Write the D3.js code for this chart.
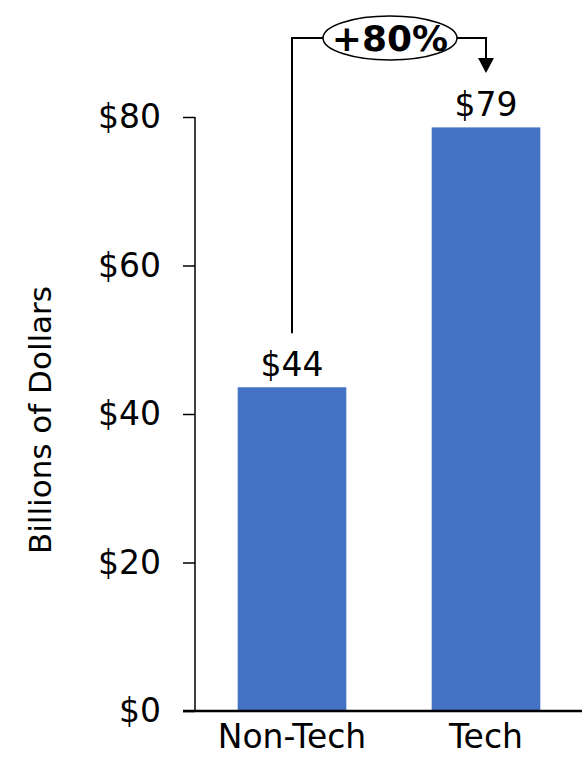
<!DOCTYPE html>
<html>
<head>
<meta charset="utf-8">
<script src="https://cdn.jsdelivr.net/npm/d3@7"></script>
<style>
  body { margin: 0; background: #fff; }
  svg { display: block; font-family: "DejaVu Sans", sans-serif; }
</style>
</head>
<body>
<svg></svg>
<script>
// Chart data
const categories = ["Non-Tech", "Tech"];
const values = [43.6, 78.6];
const valueLabels = ["$44", "$79"];
const tickValues = [0, 20, 40, 60, 80];
const changeLabel = "+80%";

// Dimensions
const width = 584;
const height = 758;
const axisX = 195;
const baseY = 711;

const svg = d3.select("svg")
    .attr("width", width)
    .attr("height", height);

const xScale = d3.scaleBand()
    .domain(categories)
    .range([axisX, 583])
    .paddingInner(0.44)
    .paddingOuter(0.22);

const yScale = d3.scaleLinear()
    .domain([0, 80])
    .range([baseY, 117]);

// Bars
svg.selectAll("rect.bar")
    .data(categories)
    .enter()
    .append("rect")
    .attr("class", "bar")
    .attr("x", d => xScale(d))
    .attr("y", (d, i) => yScale(values[i]))
    .attr("width", xScale.bandwidth())
    .attr("height", (d, i) => yScale(0) - yScale(values[i]))
    .attr("fill", "#4472C4");

// Y axis
const yAxis = d3.axisLeft(yScale)
    .tickValues(tickValues)
    .tickSize(12)
    .tickPadding(22)
    .tickFormat(d => "$" + d);
const gy = svg.append("g")
    .attr("transform", "translate(" + axisX + ",0)")
    .call(yAxis);
gy.select(".domain").remove();
gy.append("line")
    .attr("x1", 0).attr("x2", 0)
    .attr("y1", yScale(80)).attr("y2", baseY)
    .attr("stroke", "#000").attr("stroke-width", 1.5);
gy.selectAll(".tick line").attr("stroke", "#000").attr("stroke-width", 1.5);
gy.selectAll(".tick text")
    .attr("fill", "#000")
    .style("font-size", "33px")
    .style("font-family", "DejaVu Sans, sans-serif");

// X axis
const xAxis = d3.axisBottom(xScale).tickSize(0).tickPadding(14);
const gx = svg.append("g")
    .attr("transform", "translate(0," + baseY + ")")
    .call(xAxis);
gx.select(".domain").remove();
gx.append("line")
    .attr("x1", 183).attr("x2", 582)
    .attr("y1", 0).attr("y2", 0)
    .attr("stroke", "#000").attr("stroke-width", 2.5);
gx.selectAll(".tick text")
    .attr("fill", "#000")
    .style("font-size", "33px")
    .style("font-family", "DejaVu Sans, sans-serif");

// Y label
svg.append("text")
    .attr("transform", "translate(51,420) rotate(-90)")
    .attr("text-anchor", "middle")
    .style("font-size", "31px")
    .text("Billions of Dollars");

// Value labels
svg.selectAll("text.val")
    .data(categories)
    .enter()
    .append("text")
    .attr("class", "val")
    .attr("x", d => xScale(d) + xScale.bandwidth() / 2)
    .attr("y", (d, i) => yScale(values[i]) - 11)
    .attr("text-anchor", "middle")
    .style("font-size", "33px")
    .text((d, i) => valueLabels[i]);

// Change annotation
const x1 = xScale(categories[0]) + xScale.bandwidth() / 2;
const x2 = xScale(categories[1]) + xScale.bandwidth() / 2;
const topY = 38;
const ex = (x1 + x2) / 2 + 1;
svg.append("path")
    .attr("d", `M${x1},${yScale(values[0]) - 54}V${topY}H${x2}V${58}`)
    .attr("fill", "none")
    .attr("stroke", "#000")
    .attr("stroke-width", 2);
svg.append("path")
    .attr("d", `M${x2 - 8},${58}L${x2 + 8},${58}L${x2},${73}Z`)
    .attr("fill", "#000");
svg.append("ellipse")
    .attr("cx", ex).attr("cy", topY)
    .attr("rx", 67).attr("ry", 22)
    .attr("fill", "#fff")
    .attr("stroke", "#000")
    .attr("stroke-width", 1.5);
svg.append("text")
    .attr("x", ex)
    .attr("y", topY + 13)
    .attr("text-anchor", "middle")
    .style("font-size", "36px")
    .style("font-weight", "bold")
    .text(changeLabel);
</script>
</body>
</html>
